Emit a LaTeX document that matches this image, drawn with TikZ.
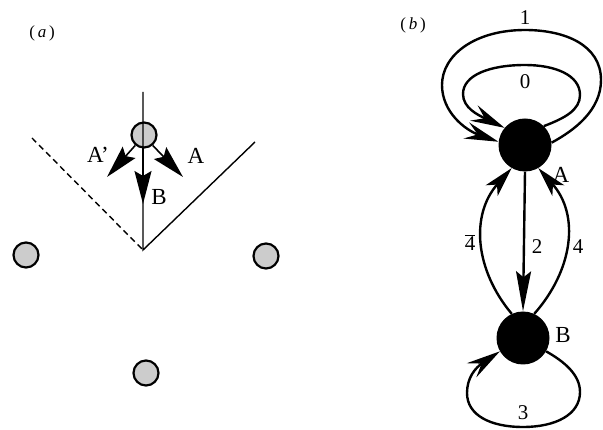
\documentclass[tikz,border=0pt]{standalone}
\usepackage{fontspec}
\setmainfont{Liberation Serif}
\usetikzlibrary{arrows.meta}
\begin{document}
\begin{tikzpicture}[x=1pt,y=-1pt,
  gcirc/.style={circle, draw, line width=2.2pt, fill=gray!40, minimum size=25pt, inner sep=0pt},
  bnode/.style={circle, fill=black, minimum size=53pt, inner sep=0pt},
  lbl/.style={inner sep=0pt, font=\fontsize{23}{26}\selectfont},
  dig/.style={inner sep=0pt, font=\fontsize{21}{24}\selectfont},
  plbl/.style={inner sep=0pt, font=\fontsize{17}{20}\selectfont},
  thin line/.style={line width=1.4pt},
  aarrow/.style={line width=1.6pt, -{Stealth[length=33pt,width=17pt,inset=5pt]}},
  loopedge/.style={line width=2.4pt, -{Stealth[length=34pt,width=17pt,inset=12pt]}},
  straightedge/.style={line width=2.4pt, -{Stealth[length=40pt,width=15pt,inset=6pt]}},
  sideedge/.style={line width=2.4pt, -{Stealth[length=30pt,width=16pt,inset=8pt]}}]
\useasboundingbox (0,0) rectangle (603,430);
% ---------- panel (a) ----------
\node[plbl] (la) at (42,33) {(\,\textit{a}\,)};
\coordinate (top) at (143,92);
\coordinate (apex) at (143,250);
\coordinate (rend) at (255,142);
\coordinate (lend) at (32,138);
\node[gcirc] (c0) at (144,135) {};
\node[gcirc] (c1) at (26,255) {};
\node[gcirc] (c2) at (266,256) {};
\node[gcirc] (c3) at (146,373) {};
\draw[thin line] (top) -- (apex) -- (rend);
\draw[thin line, dash pattern=on 6pt off 4pt] (lend) -- (apex);
\coordinate (tA1) at (107,177);
\coordinate (tA) at (183,177);
\coordinate (tB) at (143,204);
\draw[aarrow] (c0.-130) -- (tA1);
\draw[aarrow] (c0.-50) -- (tA);
\draw[aarrow] (143,147) -- (tB);
\node[lbl] (lA1) at (98,155) {A’};
\node[lbl] (lA) at (196,156) {A};
\node[lbl] (lB) at (159,197) {B};
% ---------- panel (b) ----------
\node[plbl] (lb) at (413,25) {(\,\textit{b}\,)};
\node[bnode] (A) at (525,145) {};
\node[bnode] (B) at (523,338) {};
% outer loop 1
\draw[loopedge] (A.5) .. controls (575,130) and (601,110) .. (601,80)
  .. controls (601,45) and (565,30) .. (525,30)
  .. controls (475,30) and (442,55) .. (442,85)
  .. controls (442,112) and (465,130) .. (A.173);
% inner loop 0
\draw[loopedge] (A.45) .. controls (565,118) and (580,110) .. (580,95)
  .. controls (580,75) and (555,65) .. (525,65)
  .. controls (490,65) and (463,75) .. (463,94)
  .. controls (463,108) and (478,115) .. (A.140);
% edge 2
\draw[straightedge] (A.south) -- (B.north);
% edge 4bar
\draw[sideedge] (B.115) .. controls (475,270) and (470,215) .. (A.-120);
% edge 4
\draw[sideedge] (B.65) .. controls (573,270) and (580,215) .. (A.-60);
% loop 3
\draw[loopedge] (B.-30) .. controls (565,362) and (580,375) .. (580,392)
  .. controls (580,415) and (555,427) .. (523,427)
  .. controls (490,427) and (467,415) .. (467,393)
  .. controls (467,378) and (475,368) .. (B.-150);
\node[dig] (n1) at (525,18) {1};
\node[dig] (n0) at (525,82) {0};
\node[dig] (n4b) at (470,243) {$\overline{\mbox{4}}$};
\node[dig] (n2) at (537,247) {2};
\node[dig] (n4) at (578,247) {4};
\node[dig] (n3) at (523,413) {3};
\node[lbl] (lAb) at (561,175) {A};
\node[lbl] (lBb) at (563,335) {B};
\end{tikzpicture}
\end{document}
